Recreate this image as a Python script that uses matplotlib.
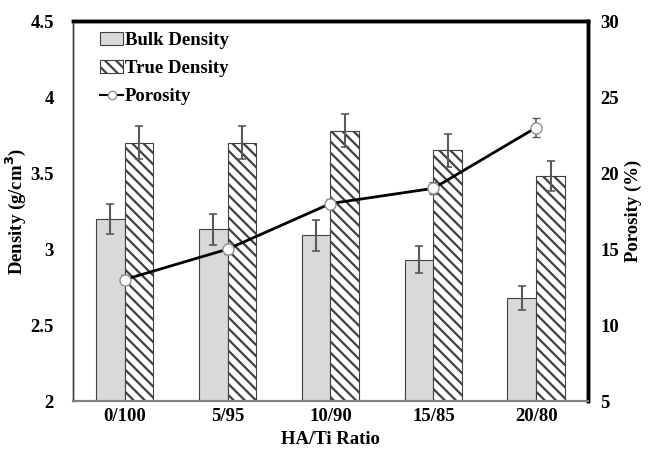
import numpy as np
import matplotlib.pyplot as plt
from matplotlib.patches import Patch
from matplotlib.lines import Line2D

plt.rcParams['font.family'] = 'Liberation Serif'
plt.rcParams['font.weight'] = 'bold'
plt.rcParams['hatch.color'] = '#707070'
plt.rcParams['hatch.linewidth'] = 1.6

ratios = ['0/100', '5/95', '10/90', '15/85', '20/80']
bulk = [3.20, 3.13, 3.09, 2.93, 2.68]
bulk_err = [0.10, 0.10, 0.10, 0.09, 0.08]
true_d = [3.70, 3.70, 3.78, 3.65, 3.48]
true_err = [0.11, 0.11, 0.11, 0.11, 0.10]
porosity = [13, 15, 18, 19, 23]
porosity_err = [0.3, 0.3, 0.3, 0.4, 0.6]

GRAY = '#d9d9d9'
EDGE = '#404040'
ERR = '#595959'
FS = 13.5
HATCH = '\\\\\\'

fig, ax = plt.subplots(figsize=(6.48, 4.58), dpi=100)
fig.subplots_adjust(left=0.113, right=0.907, top=0.954, bottom=0.124)

x = np.arange(len(ratios))
w = 0.28
ax.bar(x - w / 2, bulk, w, color=GRAY, edgecolor=EDGE, linewidth=0.8,
       yerr=bulk_err, error_kw=dict(ecolor=ERR, elinewidth=1.5, capsize=3, capthick=1.2))
ax.bar(x + w / 2, true_d, w, color='white', edgecolor=EDGE, linewidth=0.8, hatch=HATCH,
       yerr=true_err, error_kw=dict(ecolor=ERR, elinewidth=1.5, capsize=3, capthick=1.2))
ax.set_ylim(2, 4.5)
ax.set_xlim(-0.5, 4.5)
ax.set_yticks([2, 2.5, 3, 3.5, 4, 4.5])
ax.set_yticklabels(['2', '2.5', '3', '3.5', '4', '4.5'])
ax.set_xticks(x)
ax.set_xticklabels(ratios)
ax.tick_params(length=0, labelsize=FS, pad=5)
ax.tick_params(axis='y', pad=14)
ax.set_xlabel('HA/Ti Ratio', fontsize=FS, fontweight='bold', labelpad=4)
ax.set_ylabel('Density (g/cm$^\\mathbf{3}$)', fontsize=FS, fontweight='bold', labelpad=2)

ax2 = ax.twinx()
ax2.errorbar(x, porosity, yerr=porosity_err, color='black', lw=2, marker='o', ms=8,
             mfc='white', mec='#909090', mew=1, ecolor=ERR, elinewidth=1.2, capsize=3)
ax2.set_ylim(5, 30)
ax2.set_yticks([5, 10, 15, 20, 25, 30])
ax2.tick_params(length=0, labelsize=FS, pad=9)
ax2.set_ylabel('Porosity (%)', fontsize=FS, fontweight='bold', labelpad=4)

for a in (ax, ax2):
    a.spines['top'].set_linewidth(2.5)
    a.spines['right'].set_linewidth(2.5)
    a.spines['left'].set_linewidth(1)
    a.spines['left'].set_color('#404040')
    a.spines['bottom'].set_linewidth(1.5)
    a.spines['bottom'].set_color('#808080')

handles = [Patch(facecolor=GRAY, edgecolor=EDGE, linewidth=0.8),
           Patch(facecolor='white', edgecolor=EDGE, linewidth=0.8, hatch=HATCH),
           Line2D([0], [0], color='black', lw=1.5, marker='o', ms=6, mfc='white', mec='#909090')]
leg = ax2.legend(handles, ['Bulk Density', 'True Density', 'Porosity'], loc='upper left',
                 bbox_to_anchor=(0.02, 1.015), frameon=False, handlelength=1.2,
                 handletextpad=0.1, labelspacing=0.58, fontsize=FS)
for t in leg.get_texts():
    t.set_fontweight('bold')

plt.savefig('out.png')
